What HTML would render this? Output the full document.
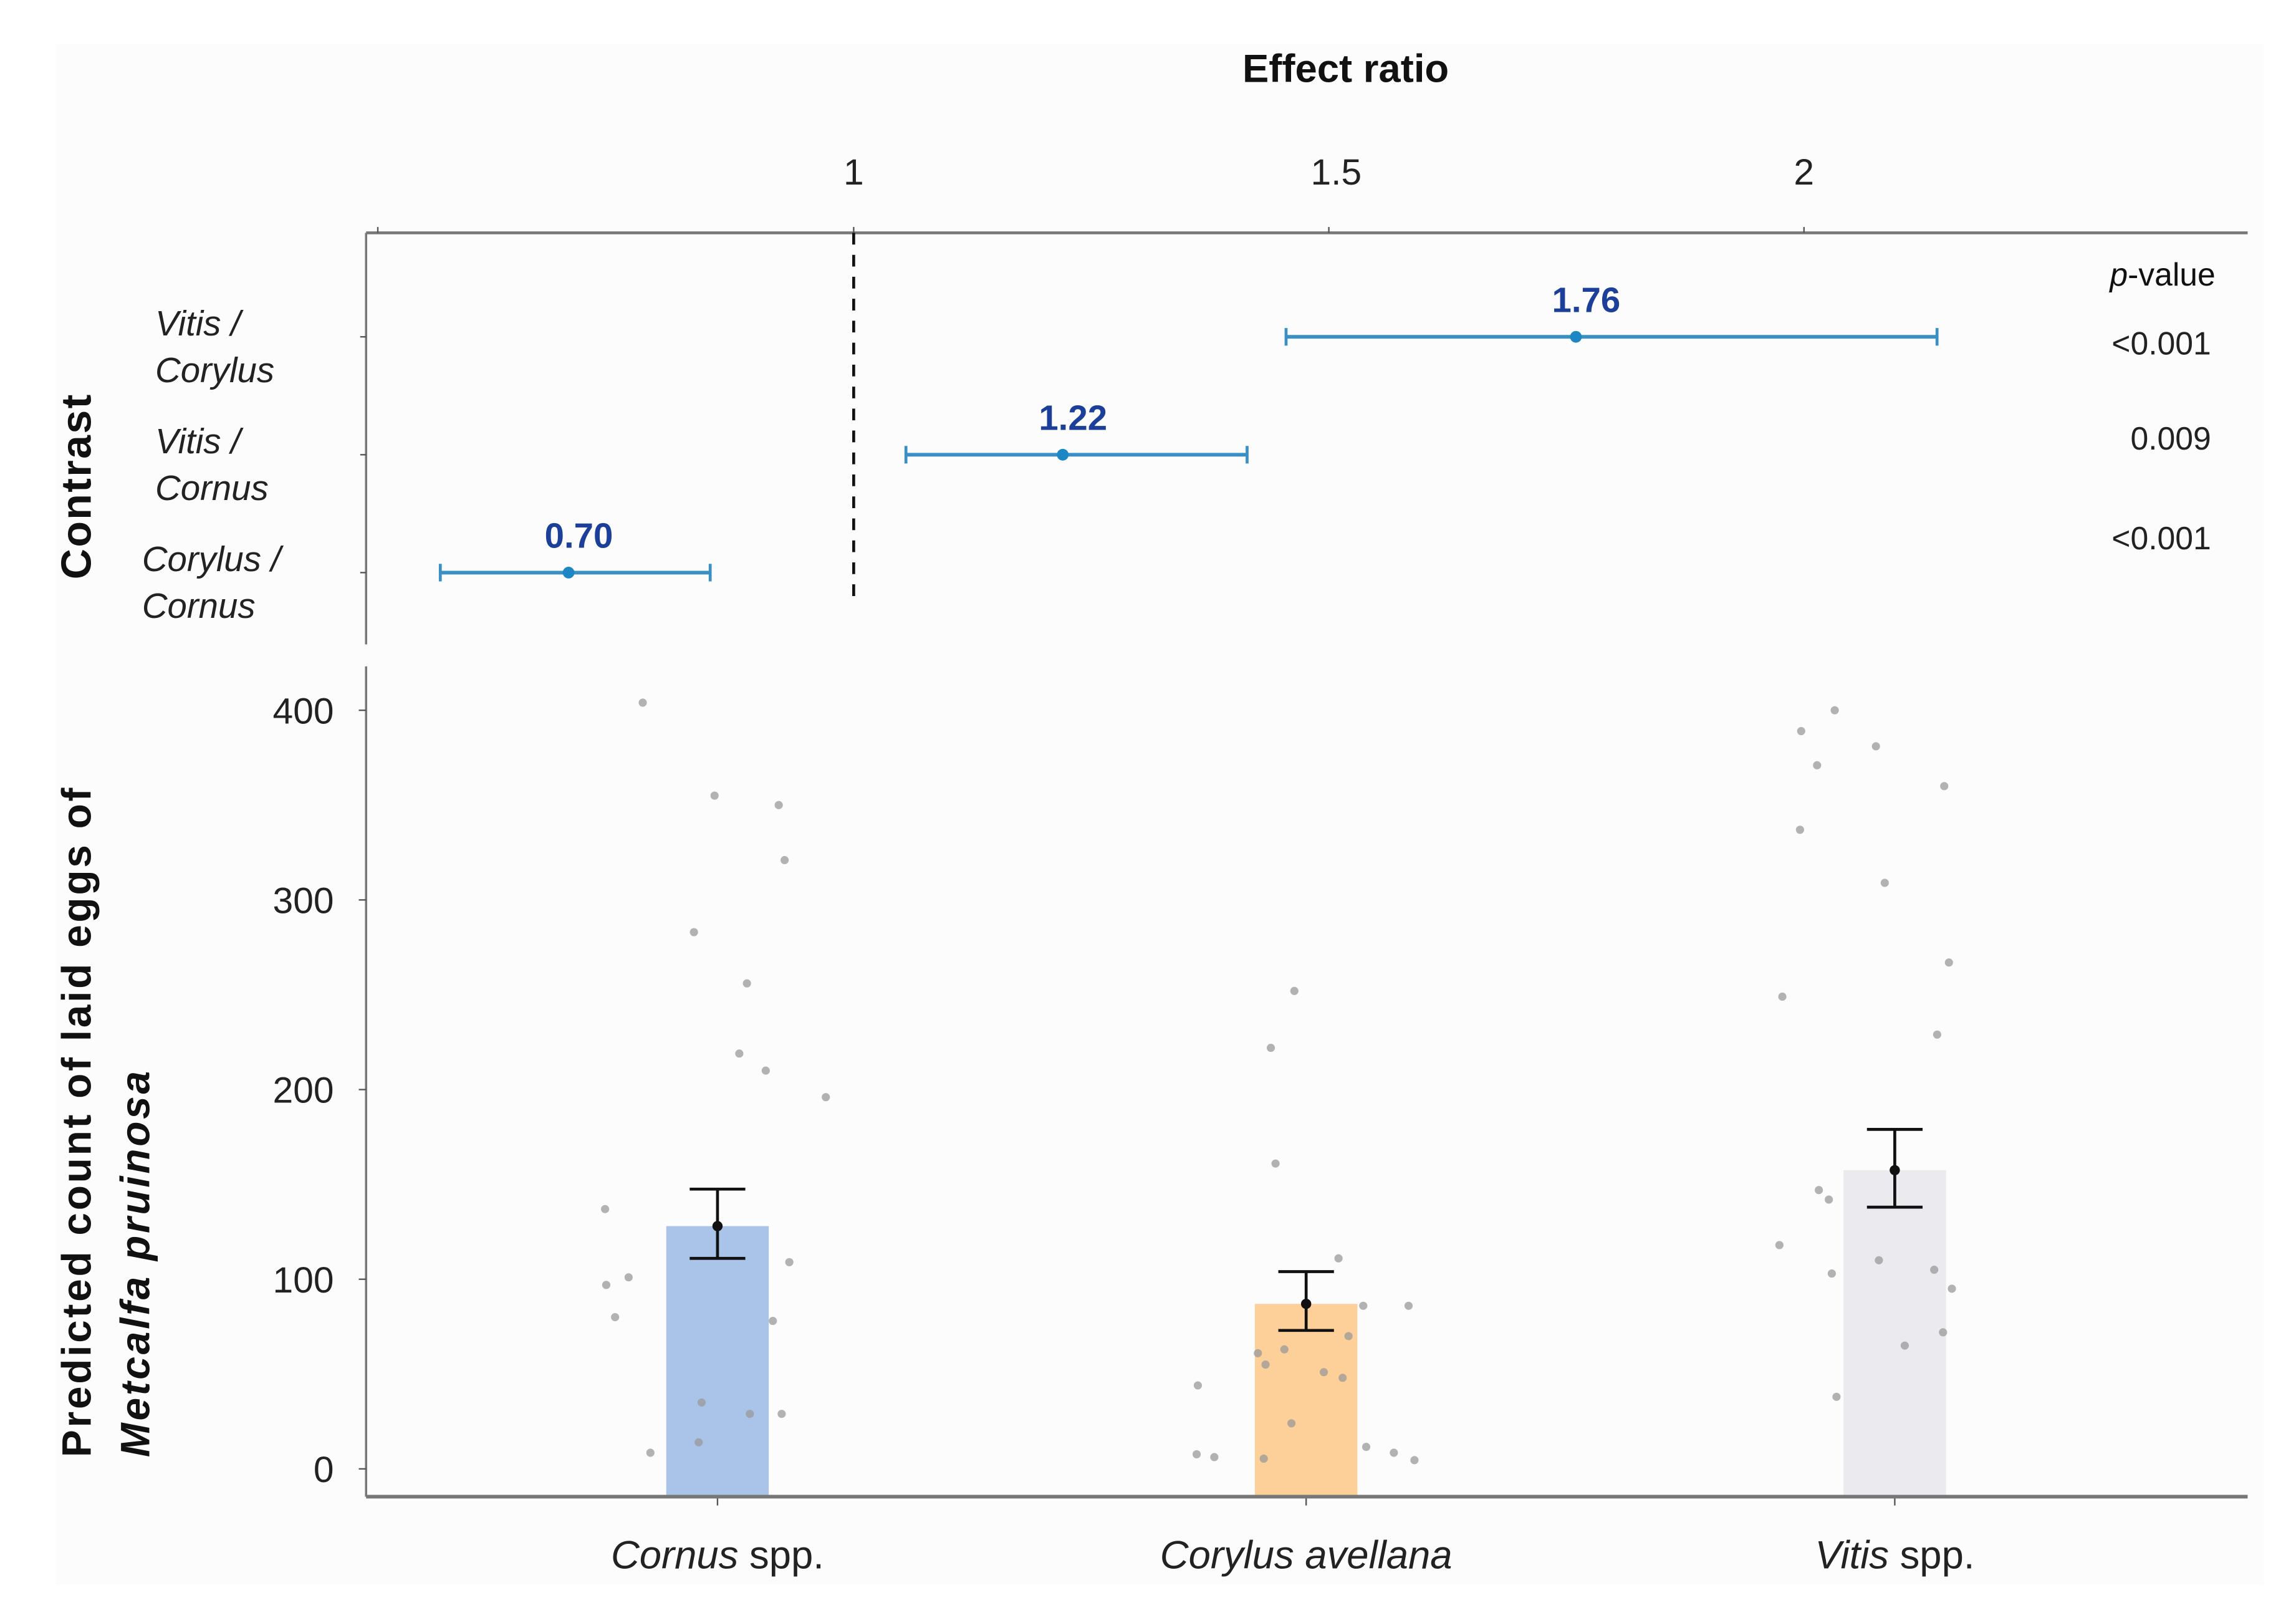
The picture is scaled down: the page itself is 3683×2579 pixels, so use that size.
<!DOCTYPE html>
<html><head><meta charset="utf-8"><style>
html,body{margin:0;padding:0;background:#fff;}
svg{display:block;font-family:"Liberation Sans",sans-serif;}
</style></head><body>
<svg id="chart" width="3683" height="2579" viewBox="0 0 1568 1098" xmlns="http://www.w3.org/2000/svg">
<rect x="0" y="0" width="1568" height="1098" fill="#ffffff"/>
<rect x="38" y="30" width="1508" height="1052" fill="#fcfcfc"/>
<text x="919" y="56" font-size="27" font-weight="bold" text-anchor="middle" fill="#111">Effect ratio</text>
<text transform="translate(62,332) rotate(-90)" font-size="29" font-weight="bold" text-anchor="middle" letter-spacing="1" fill="#111">Contrast</text>
<text transform="translate(62,995) rotate(-90)" font-size="28" font-weight="bold" text-anchor="start" letter-spacing="1.6" fill="#111">Predicted count of laid eggs of</text>
<text transform="translate(102,995) rotate(-90)" font-size="28" font-weight="bold" font-style="italic" text-anchor="start" letter-spacing="1.6" fill="#111">Metcalfa pruinosa</text>
<text x="1513" y="195" font-size="22" text-anchor="end" fill="#111"><tspan font-style="italic">p</tspan>-value</text>
<g id="topPanel"></g>
<g id="bottomPanel"></g>
</svg>
<script>
const NS="http://www.w3.org/2000/svg";
const contrastLabels=[["Vitis /","Corylus"],["Vitis /","Cornus"],["Corylus /","Cornus"]];
const ratios=[1.76,1.22,0.70];
const ciLow=[1.455,1.055,0.565];
const ciHigh=[2.140,1.414,0.849];
const pValues=["<0.001","0.009","<0.001"];
const ratioTicks=[1,1.5,2];

const categories=["Cornus","Corylus avellana","Vitis"];
const means=[128,87,157.5];
const seLow=[111,73,138];
const seHigh=[147.5,104,179];
const countTicks=[0,100,200,300,400];
const cornusPts=[404,355,350,321,283,256,219,210,196,137,101,109,97,80,78,35,29,29,8.5,14];
const cornusJit=[-0.127,-0.005,0.104,0.114,-0.040,0.050,0.037,0.082,0.184,-0.191,-0.151,0.122,-0.189,-0.174,0.094,-0.027,0.055,0.109,-0.114,-0.032];
const corylusPts=[252,222,161,111,86,86,70,63,61,55,51,48,44,24,11.6,8.5,7.7,6.2,5.4,4.6];
const corylusJit=[-0.02,-0.06,-0.052,0.055,0.097,0.174,0.072,-0.037,-0.082,-0.069,0.030,0.062,-0.184,-0.025,0.102,0.149,-0.186,-0.156,-0.072,0.184];
const vitisPts=[400,389,371,381,360,337,309,267,249,229,147,142,118,110,103,105,95,72,65,38];
const vitisJit=[-0.102,-0.159,-0.132,-0.032,0.084,-0.161,-0.017,0.092,-0.191,0.072,-0.129,-0.112,-0.196,-0.027,-0.107,0.067,0.097,0.082,0.017,-0.099];

const rx=v=>583+(v-1)*649;
const rowY=i=>230+i*80.5;
const cx=i=>490+i*402;
const cy=v=>1003-v*1.295;

function mk(tag,attrs,parent,text){const e=document.createElementNS(NS,tag);for(const k in attrs)e.setAttribute(k,attrs[k]);if(text!==undefined)e.textContent=text;parent.appendChild(e);return e;}

const topG=document.getElementById('topPanel');
let e=mk('line',{x1:250,y1:159,x2:1535,y2:159,stroke:'#777','stroke-width':2},topG);


e=mk('line',{x1:250,y1:159,x2:250,y2:440,stroke:'#777','stroke-width':1.5},topG);


mk('line',{x1:258,y1:155,x2:258,y2:159,stroke:'#555','stroke-width':1},topG);
ratioTicks.forEach(t=>{
  let l=mk('line',{x1:rx(t),y1:155,x2:rx(t),y2:159,stroke:'#555','stroke-width':1},topG);
  
  
  let tx=mk('text',{x:rx(t)+(t===1.5?5:0),y:126,'font-size':25,'text-anchor':'middle',fill:'#222'},topG,String(t));
  
  
});
e=mk('line',{x1:rx(1),y1:159,x2:rx(1),y2:413,stroke:'#111','stroke-width':2,'stroke-dasharray':'8,7'},topG);


ratios.forEach((r,i)=>{
  const y=rowY(i);
  mk('line',{x1:246,y1:y,x2:250,y2:y,stroke:'#555'},topG);
  let g=mk('g',{},topG);
  
  
  const lx=i===2?97:106;
  mk('text',{x:lx,y:y-1,'font-size':24,'font-style':'italic',fill:'#222'},g,contrastLabels[i][0]);
  mk('text',{x:lx,y:y+31,'font-size':24,'font-style':'italic',fill:'#222'},g,contrastLabels[i][1]);
  let ci=mk('line',{x1:rx(ciLow[i]),y1:y,x2:rx(ciHigh[i]),y2:y,stroke:'#3a8fc4','stroke-width':2.5},topG);
  
  
  mk('line',{x1:rx(ciLow[i]),y1:y-6,x2:rx(ciLow[i]),y2:y+6,stroke:'#3a8fc4','stroke-width':2},topG);
  mk('line',{x1:rx(ciHigh[i]),y1:y-6,x2:rx(ciHigh[i]),y2:y+6,stroke:'#3a8fc4','stroke-width':2},topG);
  let p=mk('circle',{cx:rx(r),cy:y,r:4,fill:'#1d86c4'},topG);
  
  
  let lb=mk('text',{x:rx(r)+7,y:y-17,'font-size':24,'font-weight':'bold','text-anchor':'middle',fill:'#1c3f9a'},topG,r.toFixed(2));
  
  
  let pv=mk('text',{x:1510,y:[242,307,375][i],'font-size':22,'text-anchor':'end',fill:'#222'},topG,pValues[i]);
  
  
});

const bot=document.getElementById('bottomPanel');
e=mk('line',{x1:250,y1:455,x2:250,y2:1022,stroke:'#777','stroke-width':1.5},bot);


countTicks.forEach(t=>{
  mk('line',{x1:245,y1:cy(t),x2:250,y2:cy(t),stroke:'#555'},bot);
  let tx=mk('text',{x:228,y:cy(t)+9,'font-size':25,'text-anchor':'end',fill:'#222'},bot,String(t));
  
  
});
const colors=['#a9c4e8','#fdd09a','#ebebef'];
const pts=[cornusPts,corylusPts,vitisPts],jit=[cornusJit,corylusJit,vitisJit];
categories.forEach((c,i)=>{
  let b=mk('rect',{x:cx(i)-35,y:cy(means[i]),width:70,height:1022-cy(means[i]),fill:colors[i]},bot);
  
  
});
pts.forEach((arr,i)=>arr.forEach((v,j)=>{
  let d=mk('circle',{cx:cx(i)+jit[i][j]*402,cy:cy(v),r:2.8,fill:'#9a9a9a','fill-opacity':0.75},bot);
  
  
}));
categories.forEach((c,i)=>{
  const x=cx(i);
  let g=mk('g',{stroke:'#111','stroke-width':2},bot);
  
  
  mk('line',{x1:x,y1:cy(seHigh[i]),x2:x,y2:cy(seLow[i])},g);
  mk('line',{x1:x-19,y1:cy(seHigh[i]),x2:x+19,y2:cy(seHigh[i])},g);
  mk('line',{x1:x-19,y1:cy(seLow[i]),x2:x+19,y2:cy(seLow[i])},g);
  let m=mk('circle',{cx:x,cy:cy(means[i]),r:3.5,fill:'#111'},bot);
  
  
  mk('line',{x1:x,y1:1022,x2:x,y2:1028,stroke:'#555'},bot);
  let t=mk('text',{x:x,y:1071,'font-size':27,'text-anchor':'middle',fill:'#222'},bot);
  
  
  if(c==='Corylus avellana'){mk('tspan',{'font-style':'italic'},t,c);}
  else{mk('tspan',{'font-style':'italic'},t,c);mk('tspan',{},t,' spp.');}
});
e=mk('line',{x1:250,y1:1022,x2:1535,y2:1022,stroke:'#777','stroke-width':2.5},bot);


</script>
</body></html>
